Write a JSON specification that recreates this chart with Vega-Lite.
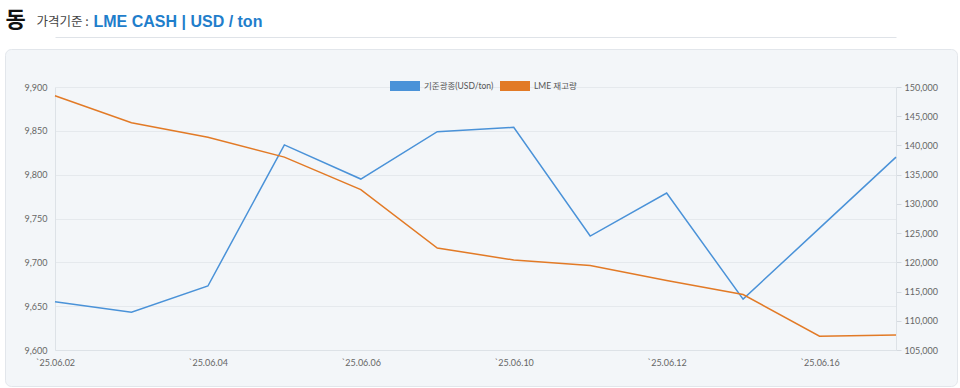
{
  "$schema": "https://vega.github.io/schema/vega-lite/v6.json",
  "width": 952,
  "height": 337,
  "autosize": {"type": "none"},
  "padding": {"left": 5, "top": 49, "right": 3, "bottom": 2},
  "background": "#ffffff",
  "config": {
    "font": "Lato",
    "axis": {"labelFont": "Lato", "labelColor": "#666666", "labelFontSize": 9},
    "legend": {"labelFont": "Lato, Noto Sans CJK KR", "labelColor": "#555555", "labelFontSize": 8.5}
  },
  "view": {"fill": "#f3f6f9", "stroke": "#e2e6eb", "cornerRadius": 6},
  "data": {
    "values": [
      {"date": "`25.06.02", "price": 9655, "stock": 148500},
      {"date": "`25.06.03", "price": 9643, "stock": 143900},
      {"date": "`25.06.04", "price": 9673, "stock": 141400},
      {"date": "`25.06.05", "price": 9834, "stock": 138000},
      {"date": "`25.06.06", "price": 9795, "stock": 132450},
      {"date": "`25.06.09", "price": 9849, "stock": 122450},
      {"date": "`25.06.10", "price": 9854, "stock": 120400},
      {"date": "`25.06.11", "price": 9730, "stock": 119450},
      {"date": "`25.06.12", "price": 9779, "stock": 116900},
      {"date": "`25.06.13", "price": 9658, "stock": 114500},
      {"date": "`25.06.16", "price": 9739, "stock": 107350},
      {"date": "`25.06.17", "price": 9820, "stock": 107550}
    ]
  },
  "layer": [
    {
      "mark": {"type": "line", "strokeWidth": 1.5},
      "encoding": {
        "x": {
          "field": "date",
          "type": "ordinal",
          "sort": null,
          "scale": {"type": "point", "range": [50, 891], "padding": 0},
          "axis": {
            "orient": "bottom",
            "offset": -36,
            "values": ["`25.06.02", "`25.06.04", "`25.06.06", "`25.06.10", "`25.06.12", "`25.06.16"],
            "labelAngle": 0,
            "ticks": false,
            "domain": true,
            "domainColor": "#dde2e7",
            "grid": false,
            "labelPadding": 8,
            "title": null
          }
        },
        "y": {
          "field": "price",
          "type": "quantitative",
          "scale": {"domain": [9600, 9900], "range": [301, 38], "zero": false, "nice": false},
          "axis": {
            "orient": "left",
            "offset": -50,
            "values": [9600, 9650, 9700, 9750, 9800, 9850, 9900],
            "format": ",d",
            "ticks": false,
            "domain": true,
            "domainColor": "#dde2e7",
            "grid": true,
            "gridColor": "#e5e9ed",
            "labelPadding": 8,
            "title": "가격기준 :",
            "titleFont": "Noto Sans CJK KR",
            "titleFontSize": 12.5,
            "titleFontWeight": "normal",
            "titleColor": "#444444",
            "titleAngle": 0,
            "titleAlign": "left",
            "titleBaseline": "alphabetic",
            "titleX": -19,
            "titleY": -24
          }
        },
        "color": {
          "datum": "기준광종(USD/ton)",
          "type": "nominal",
          "scale": {"domain": ["기준광종(USD/ton)", "LME 재고량"], "range": ["#4a92d8", "#e27a26"]},
          "legend": {
            "orient": "none",
            "legendX": 385,
            "legendY": 22,
            "direction": "horizontal",
            "title": null,
            "symbolType": "M-1,-0.3333L1,-0.3333L1,0.3333L-1,0.3333Z",
            "symbolSize": 900,
            "symbolStrokeWidth": 0,
            "labelOffset": 4,
            "columnPadding": 6,
            "encode": {
              "symbols": {
                "update": {
                  "fill": {"scale": "color", "field": "value"},
                  "strokeWidth": {"value": 0},
                  "opacity": {"value": 1}
                }
              }
            }
          }
        }
      }
    },
    {
      "mark": {"type": "line", "strokeWidth": 1.5},
      "encoding": {
        "x": {
          "field": "date",
          "type": "ordinal",
          "sort": null,
          "scale": {"type": "point", "range": [50, 891], "padding": 0},
          "axis": {
            "orient": "top",
            "offset": 12,
            "labels": false,
            "ticks": false,
            "grid": false,
            "domain": true,
            "domainColor": "#dfe3e8",
            "title": "동",
            "titleFont": "Noto Sans CJK KR",
            "titleFontSize": 22,
            "titleFontWeight": "bold",
            "titleColor": "#111111",
            "titleAngle": 0,
            "titleAlign": "left",
            "titleBaseline": "alphabetic",
            "titleX": 0,
            "titleY": -11
          }
        },
        "y": {
          "field": "stock",
          "type": "quantitative",
          "scale": {"domain": [105000, 150000], "range": [301, 38], "zero": false, "nice": false},
          "axis": {
            "orient": "right",
            "offset": -61,
            "values": [105000, 110000, 115000, 120000, 125000, 130000, 135000, 140000, 145000, 150000],
            "format": ",d",
            "ticks": true,
            "tickSize": 5,
            "tickColor": "#d5dae0",
            "domain": true,
            "domainColor": "#dde2e7",
            "grid": false,
            "labelPadding": 3,
            "title": "LME CASH | USD / ton",
            "titleFont": "Liberation Sans",
            "titleFontSize": 16,
            "titleFontWeight": "bold",
            "titleColor": "#1f7ecb",
            "titleAngle": 0,
            "titleAlign": "left",
            "titleBaseline": "alphabetic",
            "titleX": -803,
            "titleY": -23
          }
        },
        "color": {"datum": "LME 재고량", "type": "nominal"}
      }
    }
  ],
  "resolve": {"scale": {"y": "independent"}, "axis": {"x": "independent"}}
}
